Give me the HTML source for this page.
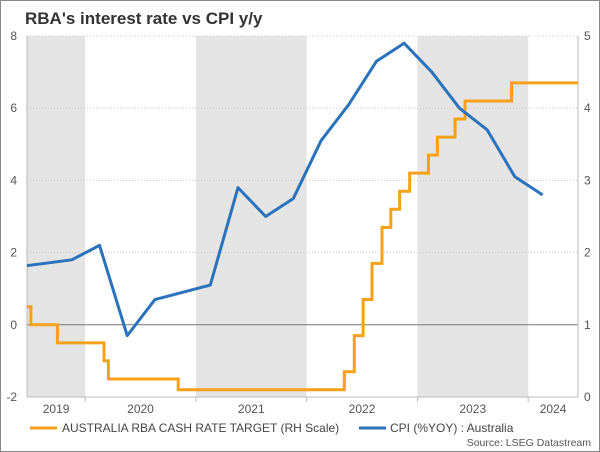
<!DOCTYPE html>
<html><head><meta charset="utf-8"><style>
body{margin:0;background:#fff;}
svg{display:block;font-family:"Liberation Sans",sans-serif;}
</style></head><body>
<svg width="600" height="452" viewBox="0 0 600 452">
<rect x="0.5" y="0.5" width="599" height="451" fill="#fff" stroke="#888"/>
<text x="25" y="24" font-size="17" font-weight="bold" fill="#333">RBA's interest rate vs CPI y/y</text>
<g id="bands"></g>
<g id="grid"></g>
<g id="axes"></g>
<g id="series"></g>
<g>
<line x1="30" y1="428" x2="57" y2="428" stroke="#f7a11a" stroke-width="3"/>
<text x="62" y="432" font-size="12" fill="#444">AUSTRALIA RBA CASH RATE TARGET (RH Scale)</text>
<line x1="359" y1="428" x2="386" y2="428" stroke="#2a72bb" stroke-width="3"/>
<text x="390" y="432" font-size="12" fill="#444">CPI (%YOY) : Australia</text>
</g>
<text x="591" y="446" font-size="10.5" fill="#555" text-anchor="end">Source: LSEG Datastream</text>
</svg>
<script>
const leftTicks=[-2,0,2,4,6,8];
const rightTicks=[0,1,2,3,4,5];
const yearLabels=["2019","2020","2021","2022","2023","2024"];
const yearStarts=[2019,2020,2021,2022,2023,2024];
const cpiDates=[2019.38,2019.63,2019.88,2020.13,2020.38,2020.63,2020.88,2021.13,2021.38,2021.63,2021.88,2022.13,2022.38,2022.63,2022.88,2023.13,2023.38,2023.63,2023.88,2024.13];
const cpiValues=[1.6,1.7,1.8,2.2,-0.3,0.7,0.9,1.1,3.8,3.0,3.5,5.1,6.1,7.3,7.8,7.0,6.0,5.4,4.1,3.6];
const rateDates=[2019.43,2019.51,2019.75,2020.17,2020.21,2020.84,2022.34,2022.43,2022.51,2022.59,2022.68,2022.76,2022.84,2022.93,2023.10,2023.18,2023.34,2023.43,2023.85];
const rateValues=[1.25,1.0,0.75,0.5,0.25,0.10,0.35,0.85,1.35,1.85,2.35,2.60,2.85,3.10,3.35,3.60,3.85,4.10,4.35];
const X0=27,X1=578,Y0=36,Y1=397,T0=2019.475,T1=2024.45;
const NS="http://www.w3.org/2000/svg";
function x(t){return X0+(t-T0)/(T1-T0)*(X1-X0);}
function yL(v){return Y1-(v+2)/10*(Y1-Y0);}
function yR(v){return Y1-v/5*(Y1-Y0);}
function mk(tag,attrs,parent){const e=document.createElementNS(NS,tag);for(const k in attrs)e.setAttribute(k,attrs[k]);document.getElementById(parent).appendChild(e);return e;}
for(let i=0;i<yearStarts.length;i++){
  if(i%2===0){
    const a=Math.max(X0,x(yearStarts[i])),b=Math.min(X1,x(yearStarts[i]+1));
    const r=mk('rect',{x:a,y:Y0,width:b-a,height:Y1-Y0,fill:'#e4e4e4'},'bands');
    
    
  }
}
leftTicks.forEach(v=>{
  const y=yL(v);
  if(v!==0&&v!==-2){const g=mk('line',{x1:X0,x2:X1,y1:y,y2:y,stroke:'#c8c8c8','stroke-dasharray':'1,2'},'grid');
  
  }
  const t=mk('text',{x:17,y:y+4,'font-size':12,fill:'#555','text-anchor':'end'},'axes');t.textContent=v;
  
  
});
rightTicks.forEach(v=>{
  const t=mk('text',{x:584,y:yR(v)+4,'font-size':12,fill:'#555'},'axes');t.textContent=v;
  
  
});
const z=mk('line',{x1:X0,x2:X1,y1:yL(0),y2:yL(0),stroke:'#777','stroke-width':1},'axes');


[[X0,'left-axis-line'],[X1,'right-axis-line']].forEach(p=>{const l=mk('line',{x1:p[0],x2:p[0],y1:Y0,y2:Y1,stroke:'#bbb'},'axes');

});
const xa=mk('line',{x1:X0,x2:X1,y1:Y1,y2:Y1,stroke:'#bbb'},'axes');


yearStarts.forEach((ys,i)=>{
  const bx=x(ys);
  if(bx>X0&&bx<X1){const tk=mk('line',{x1:bx,x2:bx,y1:Y1,y2:Y1+5,stroke:'#bbb'},'axes');
  
  }
  const a=Math.max(X0,bx),b=Math.min(X1,x(ys+1));
  const t=mk('text',{x:(a+b)/2,y:413,'font-size':12,fill:'#555','text-anchor':'middle'},'axes');t.textContent=yearLabels[i];
  
  
});
mk('clipPath',{id:'clip'},'series');
mk('rect',{x:X0,y:Y0-5,width:X1-X0,height:Y1-Y0+10},'series');
document.getElementById('clip').appendChild(document.getElementById('series').lastChild);
let d='';
rateDates.forEach((t,i)=>{
  const px=x(t),py=yR(rateValues[i]);
  if(i===0)d+='M'+px+','+py;else d+='H'+px+'V'+py;
});
d+='H'+X1;
const rp=mk('path',{d:d,fill:'none',stroke:'#f7a11a','stroke-width':3,'clip-path':'url(#clip)'},'series');


const cd=cpiDates.map((t,i)=>(i?'L':'M')+x(t)+','+yL(cpiValues[i])).join('');
const cp=mk('path',{d:cd,fill:'none',stroke:'#2a72bb','stroke-width':3,'stroke-linejoin':'round','clip-path':'url(#clip)'},'series');


</script>
</body></html>
